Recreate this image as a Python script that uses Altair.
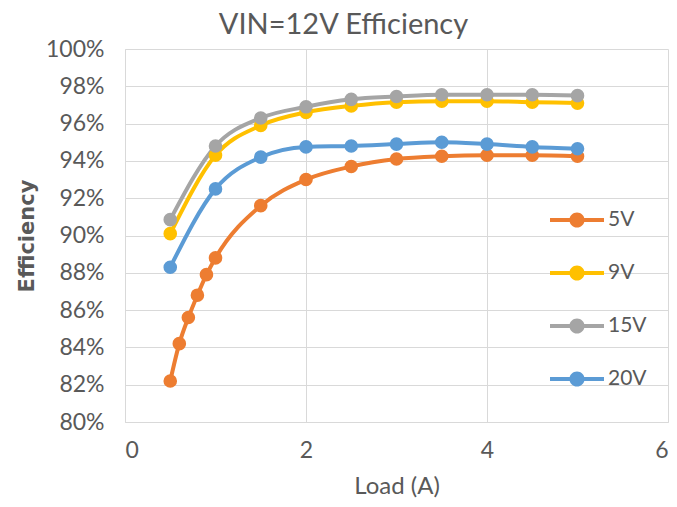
import altair as alt
import pandas as pd

series_names = ["5V", "9V", "15V", "20V"]
colors = ["#ED7D31", "#FFC000", "#A5A5A5", "#5B9BD5"]

load_5v = [0.5, 0.6, 0.7, 0.8, 0.9, 1.0, 1.5, 2.0, 2.5, 3.0, 3.5, 4.0, 4.5, 5.0]
eff_5v = [0.822, 0.842, 0.856, 0.868, 0.879, 0.888, 0.916, 0.930, 0.937, 0.941, 0.9425, 0.943, 0.943, 0.9425]

load_other = [0.5, 1.0, 1.5, 2.0, 2.5, 3.0, 3.5, 4.0, 4.5, 5.0]
eff_9v = [0.901, 0.943, 0.959, 0.966, 0.9695, 0.9715, 0.972, 0.972, 0.9715, 0.971]
eff_15v = [0.9085, 0.948, 0.963, 0.969, 0.973, 0.9745, 0.9755, 0.9755, 0.9755, 0.975]
eff_20v = [0.883, 0.925, 0.942, 0.9475, 0.948, 0.949, 0.950, 0.949, 0.9475, 0.9465]

x_ticks = [0, 2, 4, 6]
y_ticks = [0.80, 0.82, 0.84, 0.86, 0.88, 0.90, 0.92, 0.94, 0.96, 0.98, 1.00]

rows = []
for x, y in zip(load_5v, eff_5v):
    rows.append({"Load": x, "Eff": y, "Series": "5V"})
for name, ys in zip(["9V", "15V", "20V"], [eff_9v, eff_15v, eff_20v]):
    for x, y in zip(load_other, ys):
        rows.append({"Load": x, "Eff": y, "Series": name})
df = pd.DataFrame(rows)

FONT = "Lato"
TXT = "#595959"

legend_path = ("M-1,-0.075 H1 V0.075 H-1 Z "
               "M0.28,0 A0.28,0.28 0 1,1 -0.28,0 A0.28,0.28 0 1,1 0.28,0 Z")

xenc = alt.X("Load:Q", scale=alt.Scale(domain=[0, 6], nice=False),
             axis=alt.Axis(values=x_ticks, title="Load (A)", format="d"))
yenc = alt.Y("Eff:Q", scale=alt.Scale(domain=[0.8, 1.0], nice=False, zero=False),
             axis=alt.Axis(values=y_ticks, format=".0%", title="Efficiency"))
color_scale = alt.Scale(domain=series_names, range=colors)

lines = alt.Chart(df).mark_line(strokeWidth=4, interpolate="monotone").encode(
    x=xenc, y=yenc,
    color=alt.Color("Series:N", scale=color_scale, sort=series_names),
)
points = alt.Chart(df).mark_circle(size=185, opacity=1).encode(
    x=xenc, y=yenc,
    color=alt.Color("Series:N", scale=color_scale, sort=series_names,
                    legend=alt.Legend(
                        title=None, orient="none", legendX=425, legendY=144,
                        symbolType=legend_path, symbolSize=2916,
                        symbolStrokeWidth=0, labelFont=FONT, labelFontSize=21,
                        labelColor=TXT, labelOffset=4, rowPadding=16,
                        symbolOpacity=1)),
)

chart = alt.layer(lines, points).properties(
    width=543, height=373,
    autosize=alt.AutoSizeParams(type="none"),
    padding={"left": 117, "top": 41, "right": 1, "bottom": 76},
    title=alt.TitleParams("VIN=12V Efficiency", font=FONT, fontSize=29,
                          fontWeight="normal", color=TXT, anchor="middle",
                          frame="group", baseline="alphabetic", dx=-53, offset=-25),
).configure_view(stroke=None).configure_axis(
    grid=True, gridColor="#D9D9D9", gridWidth=1,
    domainColor="#D9D9D9", domainWidth=1, ticks=False,
    labelFont=FONT, labelFontSize=23, labelColor=TXT,
    titleColor=TXT,
).configure_axisX(labelPadding=17, titleFont=FONT, titleFontSize=24,
                  titleFontWeight="normal", titleBaseline="alphabetic", titleY=71
).configure_axisY(labelPadding=21, titleFont="DejaVu Sans", titleFontSize=21,
                  titleFontWeight="bold", titleX=-98, titleY=186.5,
                  titleBaseline="middle")

chart.save("out.html", embed_options={"renderer": "svg", "actions": False})
